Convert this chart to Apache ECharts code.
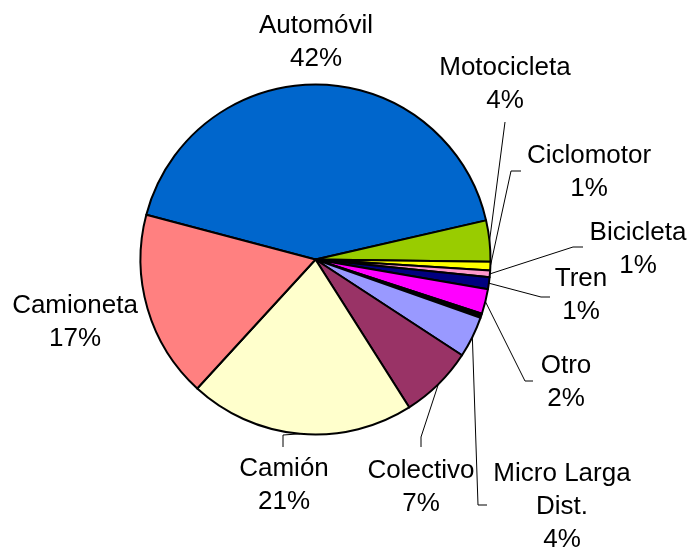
<!DOCTYPE html>
<html lang="es">
<head>
    <meta charset="UTF-8">
    <title>Distribución por tipo de vehículo</title>
    <style>
        html, body {margin: 0; padding: 0; background: #fff;}
        #main {width: 691px; height: 549px;}
    </style>
    <script src="https://cdn.jsdelivr.net/npm/echarts@6/dist/echarts.min.js"></script>
</head>
<body>
<div id="main"></div>
<script>
    // datos (porcentajes)
    var categories = ['Automóvil', 'Motocicleta', 'Ciclomotor', 'Bicicleta', 'Tren', 'Otro', '',
        'Micro Larga Dist.', 'Colectivo', 'Camión', 'Camioneta'];
    var values = [42.3, 3.8, 0.8, 0.6, 1.1, 2.3, 0.4, 3.8, 6.8, 20.8, 17.3];
    var colors = ['#0066CC', '#99CC00', '#FFFF00', '#FF99CC', '#000080', '#FF00FF', '#000000',
        '#9999FF', '#993366', '#FFFFCC', '#FF8080'];

    // posicion de cada etiqueta (centro del texto) y codo/fin de la linea guia
    var labelPos = [
        [316, 42], [505, 84], [589, 172], [638, 249], [581, 295], [566, 382], null,
        [562, 507], [421, 487], [284, 485], [75, 322]
    ];
    var guide = [
        null, [[505, 122], [505, 122]], [[511, 171], [521, 171]], [[573, 247], [583, 247]],
        [[541, 297], [550, 297]], [[525, 381], [533, 381]], null,
        [[478, 505], [487, 505]], [[421, 437], [421, 447]], [[283, 435], [283, 447]], null
    ];

    var pieData = categories.map(function (name, i) {
        return {
            name: name,
            value: values[i],
            itemStyle: {color: colors[i]},
            label: {show: labelPos[i] != null},
            labelLine: {show: guide[i] != null}
        };
    });

    var myChart = echarts.init(document.getElementById('main'));
    myChart.setOption({
        animation: false,
        series: [{
            type: 'pie',
            center: [315.5, 259.5],
            radius: 175,
            startAngle: 165.2,
            clockwise: true,
            avoidLabelOverlap: false,
            itemStyle: {
                borderColor: '#000',
                borderWidth: 2
            },
            label: {
                position: 'outside',
                fontFamily: 'Liberation Sans, Arial, sans-serif',
                fontSize: 26,
                lineHeight: 33,
                color: '#000',
                align: 'center',
                formatter: function (p) {
                    return p.name.replace('Larga ', 'Larga\n') + '\n' + Math.round(p.percent) + '%';
                }
            },
            labelLine: {
                show: true,
                lineStyle: {color: '#000', width: 1}
            },
            labelLayout: function (params) {
                var i = params.dataIndex;
                var pos = labelPos[i];
                if (!pos) return {};
                var out = {
                    x: pos[0],
                    y: pos[1],
                    align: 'center',
                    verticalAlign: 'middle'
                };
                if (guide[i] && params.labelLinePoints) {
                    var start = params.labelLinePoints[0];
                    out.labelLinePoints = [start, guide[i][0], guide[i][1]];
                }
                return out;
            },
            emphasis: {disabled: true},
            data: pieData
        }]
    });
</script>
</body>
</html>
